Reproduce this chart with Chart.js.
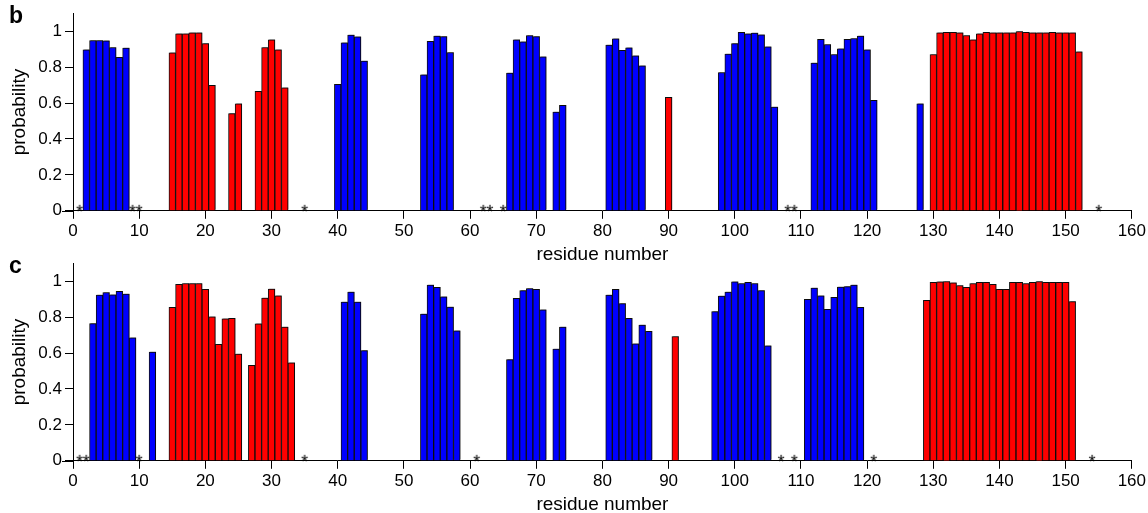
<!DOCTYPE html>
<html>
<head>
<meta charset="utf-8">
<script src="https://cdn.jsdelivr.net/npm/chart.js@4.4.1/dist/chart.umd.min.js"></script>
<style>
  html, body { margin: 0; background: #fff; overflow: hidden; }
  #wrap { position: relative; width: 1148px; height: 513px; overflow: hidden; }
  .panel { position: absolute; left: 0; width: 1148px; }
  .lbl { position: absolute; left: 9px; font: bold 23px "Liberation Sans", Arial, sans-serif; line-height: 1; }
</style>
</head>
<body>
<div id="wrap">
  <div class="panel" style="top:0;height:266px"><canvas id="chartB"></canvas></div>
  <div class="panel" style="top:250px;height:266px"><canvas id="chartC"></canvas></div>
  <div class="lbl" style="top:4px">b</div>
  <div class="lbl" style="top:254px">c</div>
</div>
<script>
// panel b
const bBlueRes = [2, 3, 4, 5, 6, 7, 8, 40, 41, 42, 43, 44, 53, 54, 55, 56, 57,
  66, 67, 68, 69, 70, 71, 73, 74, 81, 82, 83, 84, 85, 86,
  98, 99, 100, 101, 102, 103, 104, 105, 106,
  112, 113, 114, 115, 116, 117, 118, 119, 120, 121, 128];
const bBlueVal = [0.896, 0.948, 0.948, 0.946, 0.909, 0.854, 0.906, 0.704, 0.935, 0.978, 0.969, 0.833,
  0.757, 0.944, 0.972, 0.970, 0.881, 0.767, 0.952, 0.941, 0.976, 0.970, 0.857, 0.550, 0.587,
  0.922, 0.957, 0.893, 0.907, 0.863, 0.807,
  0.770, 0.872, 0.931, 0.993, 0.985, 0.989, 0.980, 0.913, 0.578,
  0.822, 0.954, 0.926, 0.870, 0.902, 0.954, 0.959, 0.972, 0.896, 0.615, 0.596];
const bRedRes = [15, 16, 17, 18, 19, 20, 21, 24, 25, 28, 29, 30, 31, 32, 90,
  130, 131, 132, 133, 134, 135, 136, 137, 138, 139, 140, 141, 142, 143, 144, 145,
  146, 147, 148, 149, 150, 151, 152];
const bRedVal = [0.880, 0.985, 0.985, 0.991, 0.991, 0.931, 0.698, 0.541, 0.596,
  0.665, 0.909, 0.952, 0.896, 0.685, 0.631,
  0.870, 0.991, 0.994, 0.994, 0.991, 0.976, 0.952, 0.985, 0.994, 0.991, 0.991, 0.991,
  0.991, 0.998, 0.994, 0.991, 0.991, 0.991, 0.994, 0.991, 0.991, 0.991, 0.885];
const bStars = [1, 9, 10, 35, 62, 63, 65, 108, 109, 155];

// panel c
const cBlueRes = [3, 4, 5, 6, 7, 8, 9, 12, 41, 42, 43, 44, 53, 54, 55, 56, 57, 58,
  66, 67, 68, 69, 70, 71, 73, 74, 81, 82, 83, 84, 85, 86, 87,
  97, 98, 99, 100, 101, 102, 103, 104, 105,
  111, 112, 113, 114, 115, 116, 117, 118, 119];
const cBlueVal = [0.764, 0.923, 0.937, 0.924, 0.943, 0.928, 0.684, 0.605, 0.884, 0.939, 0.884, 0.613,
  0.817, 0.978, 0.965, 0.913, 0.856, 0.723, 0.563, 0.904, 0.947, 0.959, 0.954, 0.841, 0.622, 0.744,
  0.923, 0.954, 0.875, 0.793, 0.651, 0.755, 0.721,
  0.830, 0.917, 0.939, 0.996, 0.987, 0.993, 0.987, 0.947, 0.640,
  0.899, 0.961, 0.919, 0.843, 0.910, 0.967, 0.970, 0.978, 0.854];
const cRedRes = [15, 16, 17, 18, 19, 20, 21, 22, 23, 24, 25, 27, 28, 29, 30, 31, 32, 33, 91,
  129, 130, 131, 132, 133, 134, 135, 136, 137, 138, 139, 140, 141, 142, 143, 144,
  145, 146, 147, 148, 149, 150, 151];
const cRedVal = [0.854, 0.983, 0.987, 0.987, 0.987, 0.954, 0.801, 0.649, 0.790, 0.793, 0.594,
  0.531, 0.762, 0.906, 0.956, 0.919, 0.745, 0.546, 0.692,
  0.893, 0.993, 0.996, 0.998, 0.991, 0.976, 0.965, 0.987, 0.993, 0.994, 0.983, 0.954,
  0.954, 0.993, 0.994, 0.987, 0.993, 0.998, 0.994, 0.994, 0.994, 0.993, 0.886];
const cStars = [1, 2, 10, 35, 61, 107, 109, 121, 154];

const xTicks = [0, 10, 20, 30, 40, 50, 60, 70, 80, 90, 100, 110, 120, 130, 140, 150, 160];
const yTicks = [0, 0.2, 0.4, 0.6, 0.8, 1];

Chart.defaults.font.family = '"Liberation Sans", Arial, sans-serif';
Chart.defaults.font.size = 17;
Chart.defaults.color = '#000';

// asterisk glyph sitting just above the axis
const star = document.createElement('canvas');
star.width = 14; star.height = 26;
(function () {
  const g = star.getContext('2d');
  g.fillStyle = '#000';
  g.font = '18px "Liberation Sans", Arial, sans-serif';
  g.textAlign = 'center';
  g.fillText('*', 7, 20);
})();

// gray drop shadow on the bars
const shadow = {
  id: 'shadow',
  beforeDatasetDraw(chart, args) {
    if (args.meta.type !== 'bar') return;
    const ctx = chart.ctx;
    ctx.save();
    ctx.shadowColor = 'rgba(0,0,0,0.4)';
    ctx.shadowOffsetX = 1;
    ctx.shadowOffsetY = -1;
    ctx.shadowBlur = 0;
  },
  afterDatasetDraw(chart, args) {
    if (args.meta.type !== 'bar') return;
    chart.ctx.restore();
  }
};

// x axis line runs a little to the left of the y axis
const axisExt = {
  id: 'axisExt',
  afterDraw(chart) {
    const { ctx, chartArea } = chart;
    const y0 = Math.round(chart.scales.y.getPixelForValue(0)) + 0.5;
    ctx.save();
    ctx.strokeStyle = '#000';
    ctx.lineWidth = 1;
    ctx.beginPath();
    ctx.moveTo(chartArea.left - 11, y0);
    ctx.lineTo(chartArea.left, y0);
    ctx.stroke();
    ctx.restore();
  }
};

function pts(xs, ys) {
  return xs.map((x, i) => ({ x: x, y: ys[i] }));
}

function makePanel(id, blueRes, blueVal, redRes, redVal, stars) {
  const barOpts = { borderColor: '#111', borderWidth: 1, grouped: false, barPercentage: 1, categoryPercentage: 1 };
  new Chart(document.getElementById(id), {
    type: 'bar',
    data: {
      datasets: [
        Object.assign({ data: pts(blueRes, blueVal), backgroundColor: '#0000ff' }, barOpts),
        Object.assign({ data: pts(redRes, redVal), backgroundColor: '#ff0000' }, barOpts),
        { type: 'scatter', data: stars.map(x => ({ x: x, y: 0 })), pointStyle: star, pointRadius: 6, clip: false }
      ]
    },
    options: {
      responsive: true,
      maintainAspectRatio: false,
      animation: false,
      layout: { padding: { left: 8, right: 15, top: 13, bottom: 0 } },
      plugins: { legend: { display: false }, tooltip: { enabled: false } },
      scales: {
        x: {
          type: 'linear', min: 0, max: 160, offset: false,
          afterBuildTicks: s => { s.ticks = xTicks.map(v => ({ value: v })); },
          ticks: { padding: 2, maxRotation: 0, autoSkip: false, callback: v => String(v) },
          grid: { drawOnChartArea: false, tickLength: 8, tickColor: '#000', offset: false },
          border: { color: '#000' },
          title: { display: true, text: 'residue number', font: { size: 19 }, padding: 0 }
        },
        y: {
          min: 0, max: 1.1,
          afterBuildTicks: s => { s.ticks = yTicks.map(v => ({ value: v })); },
          afterFit: s => { s.width = 65; },
          ticks: { padding: 3, callback: v => String(v) },
          grid: { drawOnChartArea: false, tickLength: 8, tickColor: '#000' },
          border: { color: '#000' },
          title: { display: true, text: 'probability', font: { size: 19 }, padding: 0 }
        }
      }
    },
    plugins: [shadow, axisExt]
  });
}

makePanel('chartB', bBlueRes, bBlueVal, bRedRes, bRedVal, bStars);
makePanel('chartC', cBlueRes, cBlueVal, cRedRes, cRedVal, cStars);
</script>
</body>
</html>
